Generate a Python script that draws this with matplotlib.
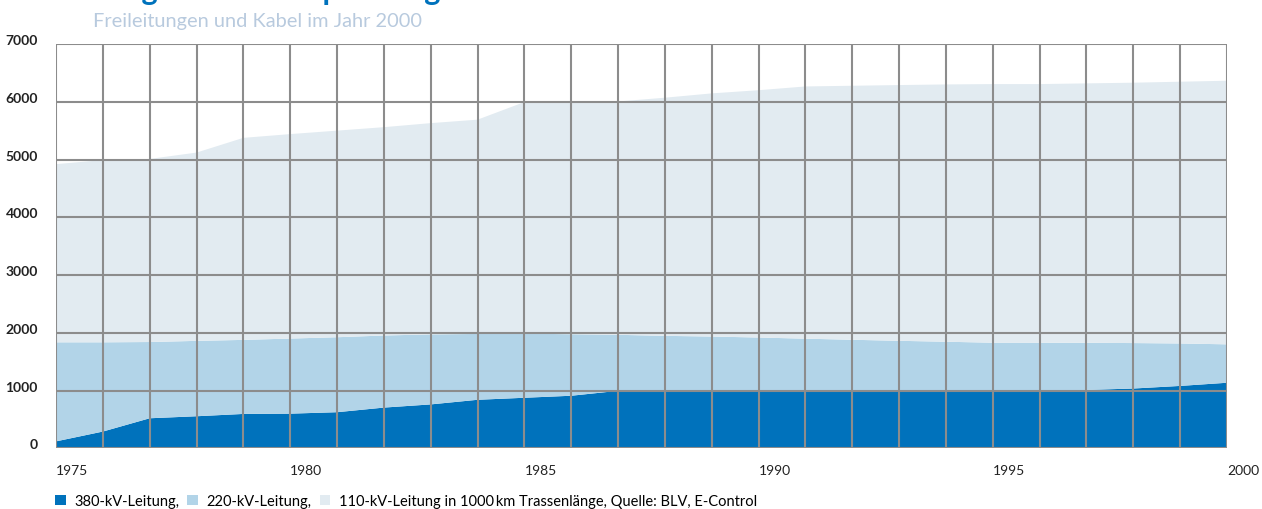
import matplotlib.pyplot as plt
from matplotlib.patches import Patch

# Werte
years = list(range(1975, 2001))
kv380 = [120, 290, 520, 555, 595, 600, 625, 705, 760, 840, 875, 910, 995,
         1000, 1000, 1000, 1000, 1000, 995, 995, 1000, 1000, 1010, 1035, 1080, 1135]
kv220 = [1715, 1545, 1320, 1305, 1282, 1300, 1298, 1248, 1212, 1140, 1110, 1065, 970,
         947, 935, 918, 898, 879, 866, 850, 828, 828, 817, 787, 735, 665]
kv110 = [3085, 3155, 3170, 3260, 3498, 3540, 3577, 3607, 3658, 3710, 4010, 4025, 4040,
         4123, 4210, 4282, 4367, 4398, 4428, 4455, 4478, 4478, 4491, 4508, 4532, 4564]

x_ticks = [1975, 1980, 1985, 1990, 1995, 2000]
y_ticks = [0, 1000, 2000, 3000, 4000, 5000, 6000, 7000]
labels = ["380-kV-Leitung,", "220-kV-Leitung,",
          "110-kV-Leitung in 1000\u2009km Trassenlänge, Quelle: BLV, E-Control"]
colors = ["#0072bc", "#b2d4e8", "#e2ebf1"]

plt.rcParams['font.family'] = ['Lato', 'DejaVu Sans']

fig = plt.figure(figsize=(12.62, 5.10), dpi=100)
ax = fig.add_axes([56 / 1262, 60.7 / 510, (1227 - 56) / 1262, (449.3 - 45) / 510])

ax.stackplot(years, kv380, kv220, kv110, colors=colors, linewidth=0)

grid_col = "#8c8c8c"
for yr in years:
    ax.axvline(yr, color=grid_col, linewidth=1.5, zorder=3)
for yv in y_ticks:
    ax.axhline(yv, color=grid_col, linewidth=1.5, zorder=3)

ax.set_xlim(1975, 2000)
ax.set_ylim(0, 7000)
for s in ax.spines.values():
    s.set_visible(False)

ax.set_xticks(x_ticks)
ax.set_xticklabels([str(t) for t in x_ticks], ha='left', fontsize=10, color='#222222')
ax.set_yticks(y_ticks)
ax.set_yticklabels([str(t) for t in y_ticks], va='baseline', fontsize=10,
                   color='#222222', fontweight='bold')
ax.tick_params(length=0)
ax.tick_params(axis='x', pad=11)
ax.tick_params(axis='y', pad=13)

# Titel (oben abgeschnitten wie im Original) und Untertitel
fig.text(93 / 1262, 1.0, "Länge des Hochspannungsnetzes", fontsize=22,
         fontweight='bold', color='#0072bc', va='baseline', ha='left')
fig.text(93 / 1262, 1 - 22 / 510, "Freileitungen und Kabel im Jahr 2000",
         fontsize=14.4, color='#b8cade', va='center', ha='left')

handles = [Patch(facecolor=c, edgecolor='none') for c in colors]
fig.legend(handles, labels, loc='center left', bbox_to_anchor=(55 / 1262, 1 - 502 / 510),
           ncol=3, frameon=False, fontsize=10.5, handlelength=0.72, handleheight=0.72,
           handletextpad=0.6, columnspacing=0.55, borderpad=0, borderaxespad=0)

fig.savefig("out.png", dpi=100)
